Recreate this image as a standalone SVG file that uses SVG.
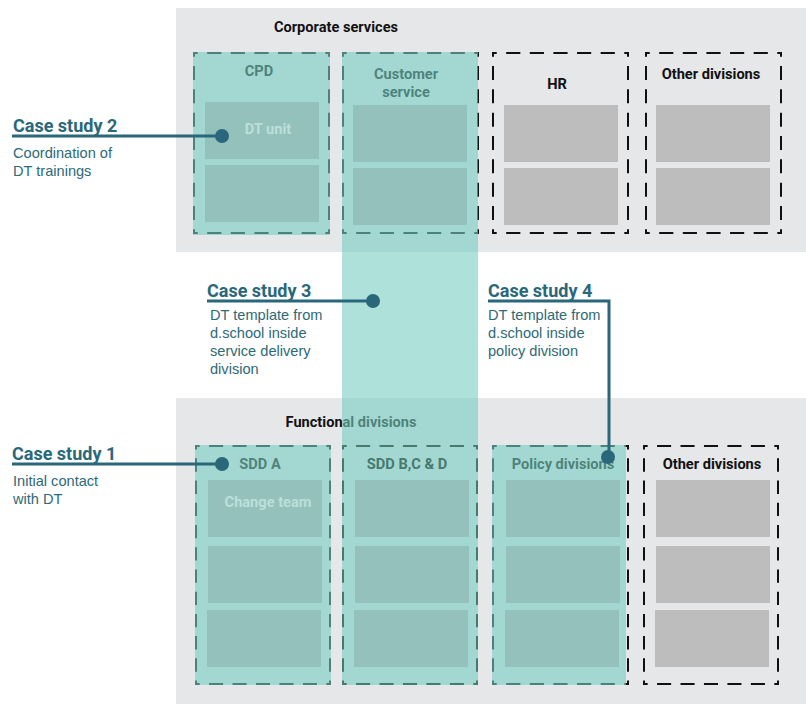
<svg xmlns="http://www.w3.org/2000/svg" width="806" height="704" viewBox="0 0 806 704">
  <style>
    .panel { fill: #e6e7e8; }
    .title { font-family: Roboto, "Liberation Sans", sans-serif; font-weight: 700; font-size: 14.6px; fill: #111; text-anchor: middle; }
    .lbl { font-family: Roboto, "Liberation Sans", sans-serif; font-weight: 700; font-size: 14.6px; fill: #111; text-anchor: middle; }
    .lbl-in { font-family: Roboto, "Liberation Sans", sans-serif; font-weight: 700; font-size: 14.6px; fill: #bcdfda; text-anchor: middle; }
    .dash { fill: none; stroke: #111; stroke-width: 2; stroke-dasharray: 12 8; stroke-dashoffset: 8; }
    .grey { fill: #bdbdbe; }
    .tealbox { fill: #94c1bc; }
    .overlay { fill: #76cdc1; opacity: 0.6; }
    .cs-title { font-family: Roboto, "Liberation Sans", sans-serif; font-weight: 700; font-size: 18px; fill: #29687a; }
    .cs-text { font-family: "Liberation Sans", Arial, sans-serif; font-size: 14.6px; fill: #2d6a78; }
    .link { fill: none; stroke: #29687a; stroke-width: 3; }
    .dot { fill: #29687a; }
  </style>

  <!-- Background panels -->
  <g id="corporate-services">
    <rect class="panel" x="176" y="8" width="630" height="244"/>
    <text class="title" x="336" y="31.5">Corporate services</text>
  </g>
  <g id="functional-divisions">
    <rect class="panel" x="176" y="398" width="630" height="306"/>
    <text class="title" x="351" y="426.5">Functional divisions</text>
  </g>

  <!-- Corporate services: CPD -->
  <g id="cpd">
    <path class="dash" pathLength="116" d="M193 53H330"/>
    <path class="dash" pathLength="116" d="M193 233H330"/>
    <path class="dash" pathLength="156" d="M194 52V234"/>
    <path class="dash" pathLength="156" d="M329 52V234"/>
    <text class="lbl" x="259" y="76">CPD</text>
    <rect class="overlay" x="193" y="52" width="137" height="183"/>
    <rect class="tealbox" x="205" y="102" width="114" height="57"/>
    <rect class="tealbox" x="205" y="165" width="114" height="57"/>
    <text class="lbl-in" x="268" y="134">DT unit</text>
  </g>

  <!-- Corporate services: HR -->
  <g id="hr">
    <path class="dash" pathLength="116" d="M492 53H629"/>
    <path class="dash" pathLength="116" d="M492 233H629"/>
    <path class="dash" pathLength="156" d="M493 52V234"/>
    <path class="dash" pathLength="156" d="M628 52V234"/>
    <text class="lbl" x="557" y="89">HR</text>
    <rect class="grey" x="504" y="105" width="114" height="57"/>
    <rect class="grey" x="504" y="168" width="114" height="57"/>
  </g>

  <!-- Corporate services: other divisions -->
  <g id="other-corporate">
    <path class="dash" pathLength="116" d="M645 53H782"/>
    <path class="dash" pathLength="116" d="M645 233H782"/>
    <path class="dash" pathLength="156" d="M646 52V234"/>
    <path class="dash" pathLength="156" d="M781 52V234"/>
    <text class="lbl" x="711" y="79">Other divisions</text>
    <rect class="grey" x="656" y="105" width="114" height="57"/>
    <rect class="grey" x="656" y="168" width="114" height="57"/>
  </g>

  <!-- Functional divisions: SDD A -->
  <g id="sdd-a">
    <path class="dash" pathLength="116" d="M195 446H331"/>
    <path class="dash" pathLength="116" d="M195 684H331"/>
    <path class="dash" pathLength="216" d="M196 445V685"/>
    <path class="dash" pathLength="216" d="M330 445V685"/>
    <text class="lbl" x="260" y="469">SDD A</text>
    <rect class="overlay" x="195" y="445" width="136" height="240"/>
    <rect class="tealbox" x="208" y="480" width="114" height="57"/>
    <rect class="tealbox" x="208" y="546" width="114" height="57"/>
    <rect class="tealbox" x="207" y="610" width="114" height="57"/>
    <text class="lbl-in" x="268" y="507">Change team</text>
  </g>

  <!-- Functional divisions: policy divisions -->
  <g id="policy">
    <path class="dash" pathLength="116" d="M492 446H629"/>
    <path class="dash" pathLength="116" d="M492 684H629"/>
    <path class="dash" pathLength="216" d="M493 445V685"/>
    <path class="dash" pathLength="216" d="M628 445V685"/>
    <text class="lbl" x="563" y="469">Policy divisions</text>
    <rect class="overlay" x="492" y="445" width="134" height="240"/>
    <rect class="tealbox" x="506" y="480" width="114" height="57"/>
    <rect class="tealbox" x="506" y="546" width="114" height="57"/>
    <rect class="tealbox" x="505" y="610" width="114" height="57"/>
  </g>

  <!-- Functional divisions: other divisions -->
  <g id="other-functional">
    <path class="dash" pathLength="116" d="M643 446H779"/>
    <path class="dash" pathLength="116" d="M643 684H779"/>
    <path class="dash" pathLength="216" d="M644 445V685"/>
    <path class="dash" pathLength="216" d="M778 445V685"/>
    <text class="lbl" x="712" y="469">Other divisions</text>
    <rect class="grey" x="656" y="480" width="114" height="57"/>
    <rect class="grey" x="656" y="546" width="114" height="57"/>
    <rect class="grey" x="655" y="610" width="114" height="57"/>
  </g>

  <!-- Customer service: its band runs down through the functional divisions -->
  <g id="customer-service">
    <path class="dash" pathLength="116" d="M342 53H479"/>
    <path class="dash" pathLength="116" d="M342 233H479"/>
    <path class="dash" pathLength="156" d="M343 52V234"/>
    <path class="dash" pathLength="156" d="M478 52V234"/>
    <text class="lbl" x="406" y="78.5">Customer</text>
    <text class="lbl" x="406" y="96.5">service</text>
    <rect class="overlay" x="342" y="52" width="136" height="633"/>
    <rect class="tealbox" x="353" y="105" width="114" height="57"/>
    <rect class="tealbox" x="353" y="168" width="114" height="57"/>
  </g>

  <!-- SDD B, C & D sits under the customer service band -->
  <g id="sdd-bcd">
    <path class="dash" pathLength="116" d="M342 446H478" style="stroke:#47796f"/>
    <path class="dash" pathLength="116" d="M342 684H478" style="stroke:#47796f"/>
    <path class="dash" pathLength="216" d="M343 445V685" style="stroke:#47796f"/>
    <path class="dash" pathLength="216" d="M477 445V685" style="stroke:#47796f"/>
    <text class="lbl" x="407" y="469" style="fill:#47796f">SDD B,C &amp; D</text>
    <rect class="tealbox" x="355" y="480" width="114" height="57"/>
    <rect class="tealbox" x="355" y="546" width="114" height="57"/>
    <rect class="tealbox" x="354" y="610" width="114" height="57"/>
  </g>

  <!-- Case study callouts -->
  <g id="connectors">
    <path class="link" d="M12 136H222"/>
    <circle class="dot" cx="222" cy="136" r="7"/>
    <path class="link" d="M207 301H373"/>
    <circle class="dot" cx="373" cy="301" r="7"/>
    <path class="link" d="M488 301H609V457"/>
    <circle class="dot" cx="608" cy="457" r="7"/>
    <path class="link" d="M12 464H222"/>
    <circle class="dot" cx="222" cy="464" r="7"/>
  </g>

  <g id="case-study-2">
    <text class="cs-title" x="13" y="132">Case study 2</text>
    <text class="cs-text" x="13" y="158">Coordination of</text>
    <text class="cs-text" x="13" y="176">DT trainings</text>
  </g>
  <g id="case-study-3">
    <text class="cs-title" x="207" y="296.5">Case study 3</text>
    <text class="cs-text" x="210" y="320">DT template from</text>
    <text class="cs-text" x="210" y="338">d.school inside</text>
    <text class="cs-text" x="210" y="356">service delivery</text>
    <text class="cs-text" x="210" y="374">division</text>
  </g>
  <g id="case-study-4">
    <text class="cs-title" x="488" y="296.5">Case study 4</text>
    <text class="cs-text" x="488" y="320">DT template from</text>
    <text class="cs-text" x="488" y="338">d.school inside</text>
    <text class="cs-text" x="488" y="356">policy division</text>
  </g>
  <g id="case-study-1">
    <text class="cs-title" x="12" y="459.5">Case study 1</text>
    <text class="cs-text" x="13" y="486">Initial contact</text>
    <text class="cs-text" x="13" y="504">with DT</text>
  </g>
</svg>
